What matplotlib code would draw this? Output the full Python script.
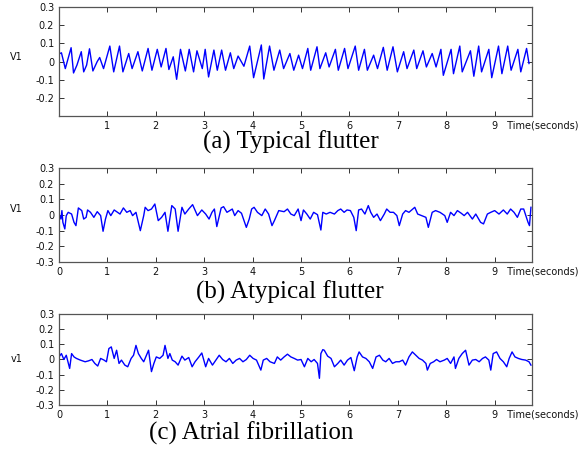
#!/usr/bin/env python3

"""
plot.py

Three V1 lead ECG strips: typical flutter, atypical flutter, atrial fibrillation
"""

import matplotlib
matplotlib.use('Agg')
import matplotlib.pyplot as plt

# (a) typical flutter, turning points read off the strip
t_typ = [0.02, 0.05, 0.13, 0.25, 0.30, 0.37, 0.46, 0.51, 0.57, 0.63, 0.70, 0.79,
         0.84, 0.92, 1.05, 1.13, 1.25, 1.32, 1.44, 1.51, 1.63, 1.72, 1.84, 1.92,
         2.03, 2.11, 2.21, 2.27, 2.36, 2.43, 2.51, 2.61, 2.69, 2.78, 2.85, 2.96,
         3.02, 3.09, 3.20, 3.27, 3.36, 3.44, 3.54, 3.61, 3.70, 3.82, 3.94, 4.02,
         4.18, 4.23, 4.35, 4.44, 4.56, 4.64, 4.77, 4.85, 4.95, 5.03, 5.14, 5.20,
         5.33, 5.39, 5.51, 5.58, 5.71, 5.77, 5.90, 5.97, 6.12, 6.19, 6.31, 6.37,
         6.50, 6.58, 6.70, 6.78, 6.90, 6.99, 7.12, 7.19, 7.33, 7.39, 7.52, 7.59,
         7.71, 7.79, 7.89, 7.94, 8.10, 8.15, 8.28, 8.33, 8.50, 8.57, 8.67, 8.73,
         8.88, 8.94, 9.08, 9.15, 9.27, 9.34, 9.48, 9.54, 9.66, 9.71]
v_typ = [0.044, 0.048, -0.039, 0.076, -0.063, -0.020, 0.054, -0.057, -0.020, 0.070,
         -0.052, 0.000, 0.022, -0.039, 0.085, -0.057, 0.085, -0.057, 0.044, -0.039,
         0.054, -0.052, 0.072, -0.048, 0.067, -0.030, 0.072, -0.044, 0.026, -0.098,
         0.067, -0.052, 0.067, -0.057, 0.059, -0.039, 0.067, -0.085, 0.063, -0.048,
         0.063, -0.048, 0.048, -0.039, 0.030, -0.026, 0.085, -0.089, 0.091, -0.096,
         0.085, -0.048, 0.063, -0.039, 0.044, -0.048, 0.035, -0.039, 0.072, -0.048,
         0.081, -0.039, 0.048, -0.030, 0.067, -0.048, 0.072, -0.039, 0.085, -0.048,
         0.067, -0.048, 0.035, -0.039, 0.078, -0.048, 0.081, -0.057, 0.054, -0.039,
         0.063, -0.039, 0.059, -0.030, 0.044, -0.030, 0.067, -0.076, 0.067, -0.067,
         0.085, -0.057, 0.059, -0.081, 0.085, -0.057, 0.067, -0.089, 0.085, -0.067,
         0.085, -0.048, 0.067, -0.057, 0.072, -0.011]

# (b) atypical flutter
t_atyp = [0.00, 0.04, 0.06, 0.08, 0.12, 0.15, 0.19, 0.26, 0.31, 0.35, 0.40, 0.47,
          0.51, 0.56, 0.59, 0.65, 0.72, 0.79, 0.86, 0.91, 0.96, 1.01, 1.07, 1.14,
          1.21, 1.26, 1.33, 1.40, 1.47, 1.52, 1.59, 1.68, 1.75, 1.78, 1.84, 1.91,
          1.98, 2.05, 2.12, 2.19, 2.25, 2.33, 2.40, 2.46, 2.54, 2.60, 2.68, 2.76,
          2.86, 2.95, 3.03, 3.10, 3.16, 3.21, 3.26, 3.35, 3.40, 3.47, 3.58, 3.63,
          3.70, 3.77, 3.87, 3.93, 3.98, 4.03, 4.10, 4.19, 4.26, 4.33, 4.40, 4.45,
          4.54, 4.65, 4.72, 4.79, 4.86, 4.94, 5.00, 5.05, 5.12, 5.19, 5.26, 5.34,
          5.41, 5.45, 5.52, 5.60, 5.69, 5.76, 5.82, 5.89, 5.95, 6.02, 6.09, 6.14,
          6.19, 6.25, 6.32, 6.39, 6.44, 6.50, 6.57, 6.64, 6.72, 6.77, 6.84, 6.91,
          6.98, 7.03, 7.10, 7.16, 7.23, 7.35, 7.41, 7.49, 7.58, 7.63, 7.71, 7.78,
          7.87, 7.97, 8.02, 8.09, 8.16, 8.23, 8.31, 8.37, 8.44, 8.54, 8.61, 8.71,
          8.77, 8.85, 8.92, 9.00, 9.09, 9.18, 9.26, 9.33, 9.40, 9.47, 9.54, 9.60,
          9.69, 9.72, 9.75]
v_atyp = [0.006, -0.026, 0.028, -0.047, -0.089, -0.004, 0.017, 0.006, -0.047, -0.068,
          0.045, 0.028, -0.026, -0.015, 0.032, 0.017, -0.015, 0.021, -0.004, -0.104,
          -0.026, 0.028, -0.004, 0.032, 0.017, 0.006, 0.045, 0.017, 0.028, -0.004,
          0.017, -0.100, -0.004, 0.049, 0.028, 0.038, 0.070, -0.036, -0.015, 0.017,
          -0.104, 0.060, 0.038, -0.104, 0.049, 0.006, 0.038, 0.066, -0.004, 0.032,
          0.006, -0.026, 0.017, 0.038, -0.074, 0.045, 0.053, 0.017, 0.038, -0.004,
          0.028, 0.011, -0.079, -0.026, 0.038, 0.049, 0.017, -0.004, 0.038, 0.006,
          -0.068, -0.036, 0.028, 0.021, 0.038, 0.006, -0.004, 0.038, -0.036, 0.032,
          0.006, -0.026, 0.017, 0.002, -0.096, 0.017, 0.006, 0.017, 0.006, 0.028,
          0.038, 0.017, 0.032, 0.028, -0.015, -0.100, 0.032, 0.038, 0.006, 0.060,
          0.017, -0.015, 0.006, -0.036, 0.006, 0.038, 0.017, 0.017, -0.004, -0.068,
          0.006, 0.028, 0.017, 0.049, 0.006, -0.004, -0.015, -0.079, 0.017, 0.028,
          0.017, -0.004, -0.047, 0.017, -0.004, 0.028, 0.011, -0.004, 0.017, -0.026,
          0.006, -0.047, -0.057, 0.006, 0.017, 0.028, 0.006, 0.032, 0.006, 0.038,
          0.017, -0.015, 0.038, 0.038, -0.047, -0.068, 0.049]

# (c) atrial fibrillation
t_af = [0.00, 0.05, 0.10, 0.15, 0.22, 0.26, 0.31, 0.36, 0.44, 0.54, 0.61, 0.68,
        0.74, 0.80, 0.86, 0.93, 0.98, 1.03, 1.08, 1.14, 1.19, 1.24, 1.29, 1.36,
        1.42, 1.49, 1.54, 1.59, 1.64, 1.70, 1.75, 1.82, 1.85, 1.91, 1.96, 2.01,
        2.08, 2.15, 2.19, 2.25, 2.29, 2.34, 2.40, 2.46, 2.54, 2.60, 2.68, 2.75,
        2.81, 2.89, 2.95, 3.03, 3.09, 3.17, 3.24, 3.31, 3.38, 3.45, 3.52, 3.59,
        3.66, 3.73, 3.80, 3.87, 3.94, 4.01, 4.08, 4.17, 4.22, 4.29, 4.36, 4.45,
        4.51, 4.58, 4.65, 4.72, 4.79, 4.86, 4.93, 5.00, 5.07, 5.14, 5.21, 5.27,
        5.34, 5.38, 5.41, 5.45, 5.48, 5.55, 5.62, 5.69, 5.76, 5.82, 5.89, 5.96,
        6.03, 6.10, 6.16, 6.20, 6.27, 6.34, 6.41, 6.48, 6.55, 6.62, 6.69, 6.75,
        6.82, 6.89, 6.96, 7.03, 7.10, 7.16, 7.23, 7.30, 7.37, 7.44, 7.51, 7.58,
        7.61, 7.67, 7.74, 7.80, 7.87, 7.96, 8.02, 8.09, 8.16, 8.19, 8.26, 8.33,
        8.40, 8.47, 8.54, 8.61, 8.68, 8.75, 8.81, 8.88, 8.92, 8.97, 9.04, 9.11,
        9.18, 9.25, 9.30, 9.36, 9.42, 9.49, 9.56, 9.64, 9.71, 9.75]
v_af = [0.017, 0.039, 0.000, 0.028, -0.059, 0.039, 0.017, 0.007, -0.004, -0.015,
        -0.009, 0.000, -0.026, -0.043, 0.007, -0.004, -0.015, 0.072, 0.083, 0.007,
        0.061, -0.026, -0.004, -0.037, -0.048, 0.007, 0.028, 0.093, 0.039, 0.007,
        -0.015, 0.039, 0.061, -0.080, -0.026, 0.017, 0.007, 0.028, 0.093, 0.007,
        0.039, -0.004, -0.015, -0.037, 0.022, -0.004, 0.013, -0.048, -0.015, 0.017,
        0.043, -0.048, 0.007, -0.037, -0.004, 0.028, 0.000, -0.015, 0.007, -0.026,
        -0.004, 0.007, -0.015, 0.000, 0.028, 0.007, -0.004, -0.070, -0.004, 0.007,
        -0.015, -0.026, 0.017, -0.004, 0.017, 0.035, 0.017, 0.007, -0.004, 0.000,
        -0.048, 0.007, -0.015, 0.000, -0.026, -0.124, 0.039, 0.065, 0.061, 0.022,
        0.007, -0.048, -0.026, -0.004, -0.037, -0.004, 0.013, -0.074, 0.017, 0.050,
        0.017, 0.007, -0.015, -0.059, 0.017, 0.028, -0.004, -0.015, 0.007, -0.026,
        -0.015, -0.015, -0.004, -0.037, 0.017, 0.050, 0.028, 0.007, -0.004, -0.026,
        -0.070, -0.026, -0.015, 0.000, -0.015, -0.004, 0.007, -0.026, 0.017, -0.059,
        0.007, 0.039, 0.061, -0.037, -0.004, 0.000, -0.015, 0.007, 0.017, -0.004,
        -0.070, 0.039, 0.050, 0.007, -0.015, -0.048, 0.007, 0.050, 0.017, 0.007,
        0.000, -0.004, -0.015, -0.037]

captions = ['(a) Typical flutter', '(b) Atypical flutter', '(c) Atrial fibrillation']
ylabels = ['V1', 'V1', 'v1']


def style_axis(ax, yticks, xticks):
    """
    Matlab-like box with inward ticks on all four sides

    :param ax: axes to style
    :param yticks: y tick positions
    :param xticks: x tick positions
    """
    ax.set_xlim(0, 9.77)
    ax.set_ylim(-0.3, 0.3)
    ax.set_yticks(yticks)
    ax.set_yticklabels(['0' if abs(y) < 1e-9 else '{:.1f}'.format(y) for y in yticks])
    ax.set_xticks(xticks)
    ax.set_xticklabels(['{}'.format(x) for x in xticks])
    ax.tick_params(direction='in', length=3.5, width=0.7, labelsize=7,
                   top=True, right=True, pad=3.5, color='#333333',
                   labelcolor='#111111')
    for sp in ax.spines.values():
        sp.set_linewidth(0.9)
        sp.set_color('#555555')


fig = plt.figure(figsize=(5.86, 4.49), dpi=100)

boxes = [[0.1007, 0.7416, 0.807, 0.2428],
         [0.1007, 0.4165, 0.807, 0.2094],
         [0.1007, 0.0980, 0.807, 0.2027]]
series = [(t_typ, v_typ), (t_atyp, v_atyp), (t_af, v_af)]
cap_pos = [(0.497, 0.682), (0.495, 0.350), (0.429, 0.036)]
ylab_y = [0.54, 0.56, 0.5]

for i, (box, (t, v)) in enumerate(zip(boxes, series)):
    ax = fig.add_axes(box)
    ax.plot(t, v, color='#0000ff', linewidth=1.0)
    if i == 0:
        style_axis(ax, [-0.2, -0.1, 0, 0.1, 0.2, 0.3], list(range(1, 10)))
    else:
        style_axis(ax, [-0.3, -0.2, -0.1, 0, 0.1, 0.2, 0.3], list(range(0, 10)))
    ax.text(-0.09, ylab_y[i], ylabels[i], transform=ax.transAxes,
            fontsize=7, ha='center', va='center', color='#111111')
    ax.text(1.0 - 0.06, -0.045 if i == 0 else -0.05, ' Time(seconds)',
            transform=ax.transAxes, fontsize=7, ha='left', va='top',
            color='#111111')
    fig.text(cap_pos[i][0], cap_pos[i][1], captions[i], fontsize=18,
             family='Liberation Serif', ha='center', va='center')

fig.savefig('out.png', dpi=100)
